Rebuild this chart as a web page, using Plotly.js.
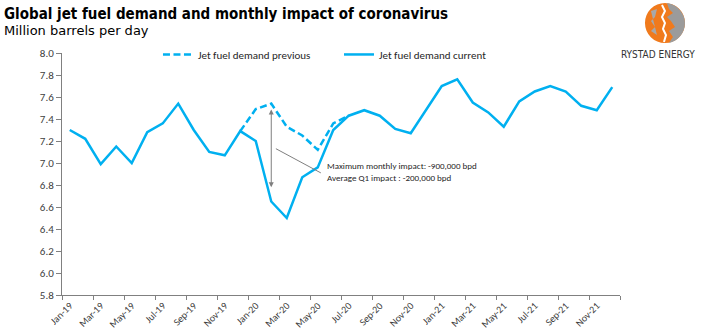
<!DOCTYPE html>
<html>
<head>
<meta charset="utf-8">
<script src="https://cdn.plot.ly/plotly-3.0.1.min.js"></script>
<style>html,body{margin:0;padding:0;background:#fff;}#chart{width:709px;height:332px;}</style>
</head>
<body>
<div id="chart"></div>
<script>
const months = ["Jan-19","Feb-19","Mar-19","Apr-19","May-19","Jun-19","Jul-19","Aug-19","Sep-19","Oct-19","Nov-19","Dec-19",
  "Jan-20","Feb-20","Mar-20","Apr-20","May-20","Jun-20","Jul-20","Aug-20","Sep-20","Oct-20","Nov-20","Dec-20",
  "Jan-21","Feb-21","Mar-21","Apr-21","May-21","Jun-21","Jul-21","Aug-21","Sep-21","Oct-21","Nov-21","Dec-21"];
const demandCurrent = [7.30,7.22,6.99,7.15,7.00,7.28,7.36,7.54,7.30,7.10,7.07,7.29,
  7.20,6.65,6.50,6.87,6.96,7.30,7.43,7.48,7.43,7.31,7.27,7.49,
  7.70,7.76,7.55,7.46,7.33,7.56,7.65,7.70,7.65,7.52,7.48,7.69];
const demandPrevious = [null,null,null,null,null,null,null,null,null,null,null,7.29,
  7.49,7.54,7.33,7.25,7.12,7.36,7.43,null,null,null,null,null,
  null,null,null,null,null,null,null,null,null,null,null,null];
const impactTop = 7.50, impactBottom = 6.78;
const lineColor = "#00B0F0";
const bodyFont = "Calibri, Carlito, Lato, 'Liberation Sans', sans-serif";
const tickFont = {family: bodyFont, size: 10, color: "#404040"};

const traces = [
  {x: months, y: demandPrevious, type: "scatter", mode: "lines", name: "Jet fuel demand previous",
   line: {color: lineColor, width: 2.5, dash: "7px,3.5px"}, connectgaps: false, hoverinfo: "skip"},
  {x: months, y: demandCurrent, type: "scatter", mode: "lines", name: "Jet fuel demand current",
   line: {color: lineColor, width: 2.5}, hoverinfo: "skip"}
];

const logo = {xref: "paper", yref: "paper", xsizemode: "pixel", ysizemode: "pixel", xanchor: 1.0806, yanchor: 1.1240};

const layout = {
  width: 709, height: 332,
  margin: {l: 62, r: 89, t: 53, b: 37},
  paper_bgcolor: "#fff", plot_bgcolor: "#fff",
  showlegend: true,
  legend: {orientation: "h", x: 0.172, y: 0.994, xanchor: "left", yanchor: "middle",
    font: {family: bodyFont, size: 11, color: "#262626"},
    entrywidth: 136, bgcolor: "rgba(0,0,0,0)", itemwidth: 30},
  xaxis: {type: "category", range: [-0.5, 35.5], showgrid: false, zeroline: false,
    showline: true, linecolor: "#808080", linewidth: 1,
    ticks: "outside", ticklen: 4, tickcolor: "#808080", tickson: "boundaries",
    dtick: 2, tickangle: -45, tickfont: tickFont, fixedrange: true},
  yaxis: {range: [5.8, 8.0], dtick: 0.2, tick0: 5.8, tickformat: ".1f", showgrid: false, zeroline: false,
    showline: true, linecolor: "#808080", linewidth: 1,
    ticks: "outside", ticklen: 5, tickcolor: "#808080", tickfont: {family: bodyFont, size: 11, color: "#404040"}, fixedrange: true},
  annotations: [
    {xref: "paper", yref: "paper", x: -0.108, y: 1.161, xanchor: "left", yanchor: "middle", showarrow: false,
     text: "<b>Global jet fuel demand and monthly impact of coronavirus</b>",
     font: {family: "'DejaVu Sans Condensed', 'DejaVu Sans', sans-serif", size: 15, color: "#000"}},
    {xref: "paper", yref: "paper", x: -0.108, y: 1.095, xanchor: "left", yanchor: "middle", showarrow: false,
     text: "Million barrels per day",
     font: {family: "'DejaVu Sans', Verdana, sans-serif", size: 13, color: "#000"}},
    {xref: "paper", yref: "paper", x: 1.068, y: 0.992, xanchor: "center", yanchor: "middle", showarrow: false,
     text: "RYSTAD ENERGY",
     font: {family: "'Liberation Sans Narrow', 'DejaVu Sans Condensed', Arial, sans-serif", size: 10, color: "#333"}},
    {xref: "x", yref: "y", x: "Feb-20", y: impactBottom, axref: "x", ayref: "y", ax: "Feb-20", ay: impactTop,
     text: "", showarrow: true, arrowhead: 2, startarrowhead: 2, arrowside: "end+start", arrowsize: 1, arrowwidth: 1,
     arrowcolor: "#7f7f7f"},
    {xref: "x", yref: "y", x: 16.45, y: 6.92, xanchor: "left", yanchor: "middle", align: "left", showarrow: false,
     text: "Maximum monthly impact: -900,000 bpd<br>Average Q1 impact : -200,000 bpd",
     font: {family: bodyFont, size: 9, color: "#262626"}}
  ],
  shapes: [
    {type: "line", xref: "x", yref: "y", x0: 13.3, y0: 7.13, x1: 16.2, y1: 6.91, line: {color: "#7f7f7f", width: 1}},
    Object.assign({type: "circle", x0: -20, x1: 20, y0: -20, y1: 20, fillcolor: "#F07A1C", line: {width: 0}}, logo),
    Object.assign({type: "path",
     path: "M 2 20 C 14 18 20 8 20 0 C 20 -10 13 -18 4 -20 L 8 -14 L 4 -8 L 10 -4 L 6 2 L 2 6 L 8 10 L 4 14 Z",
     fillcolor: "#9B9B9B", line: {width: 0}}, logo),
    Object.assign({type: "path",
     path: "M -14 12 L -8 14 L -10 6 L -14 2 L -10 -4 L -14 -8 L -8 -12 Z",
     fillcolor: "#A8A8A8", line: {width: 0}}, logo),
    Object.assign({type: "path",
     path: "M -3 18 L 0 12 L -3 6 L 0 0 L -2 -6 L 1 -12 L -1 -19",
     line: {color: "#ffffff", width: 2}}, logo)
  ]
};

Plotly.newPlot("chart", traces, layout, {displayModeBar: false, staticPlot: true});
</script>
</body>
</html>
